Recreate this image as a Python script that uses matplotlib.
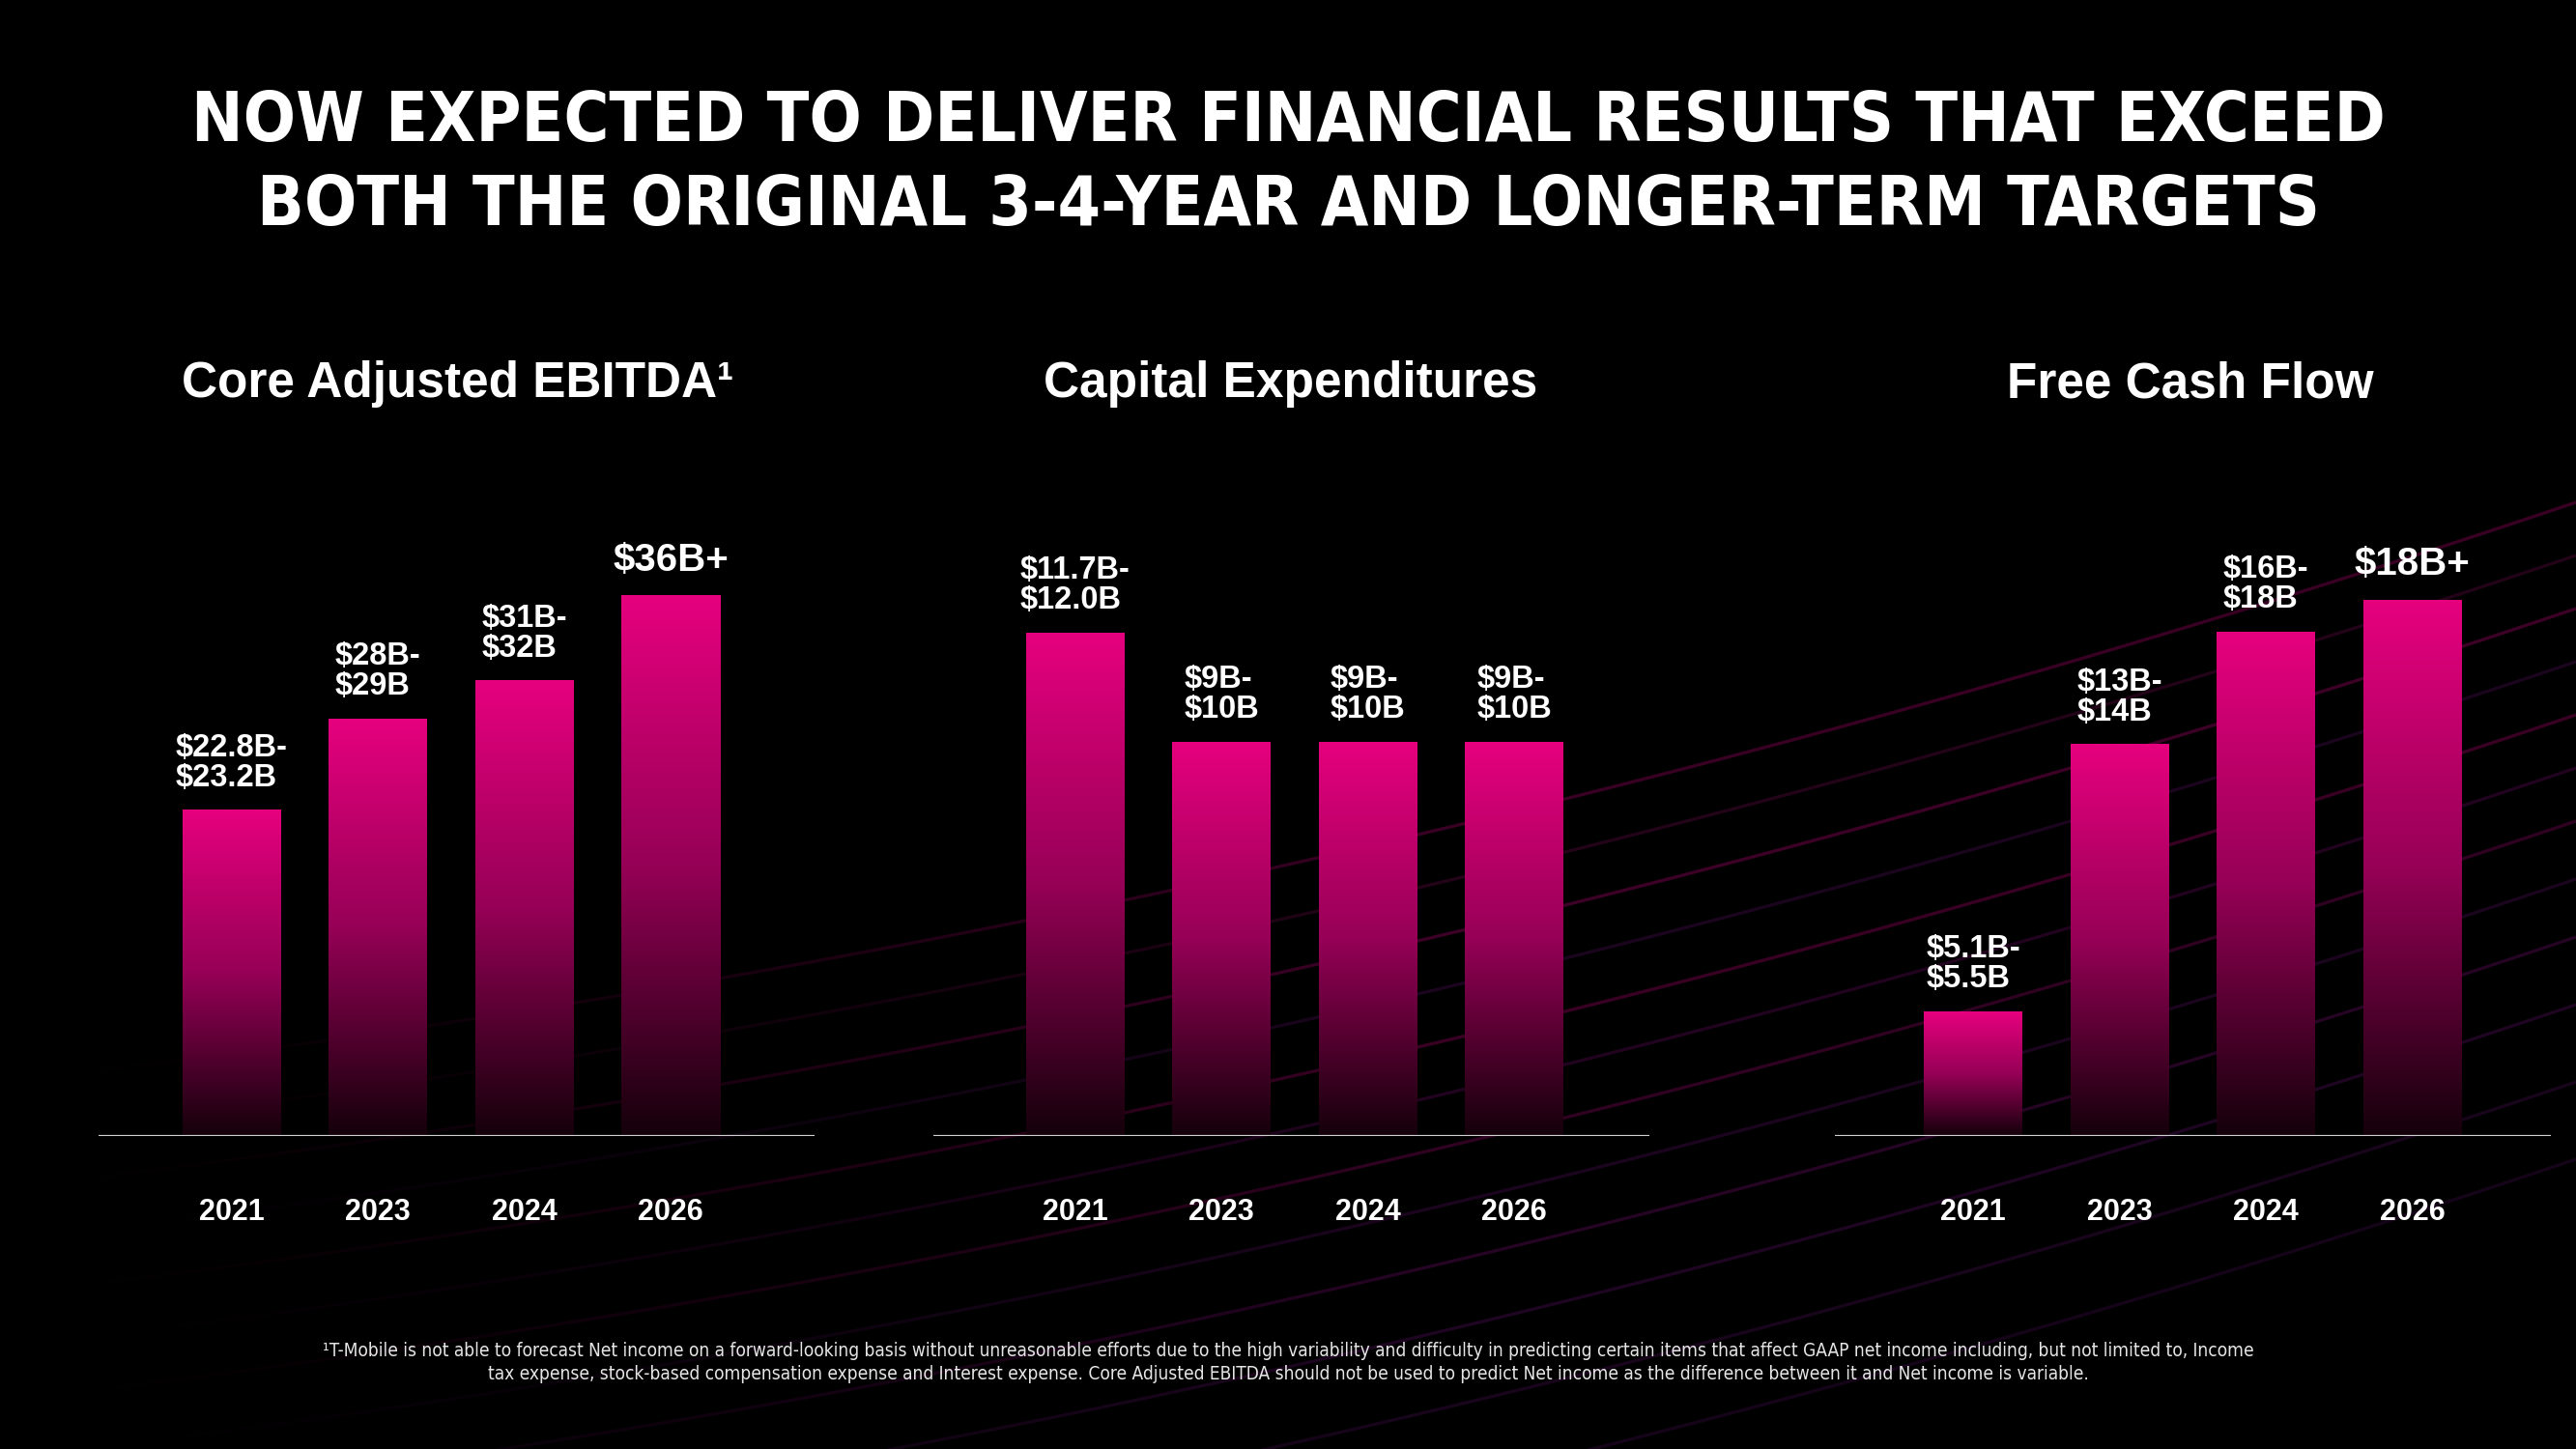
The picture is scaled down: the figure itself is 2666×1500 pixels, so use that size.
import numpy as np
import matplotlib
matplotlib.use('Agg')
import matplotlib.pyplot as plt
from matplotlib import font_manager
from matplotlib.font_manager import FontProperties
from matplotlib.colors import LinearSegmentedColormap, to_rgba
from matplotlib.collections import LineCollection

## values ($B, bar heights as drawn)
years = ['2021', '2023', '2024', '2026']
ebitda = [22.2, 28.4, 31.0, 36.8]
ebitda_labels = ['$22.8B-\n$23.2B', '$28B-\n$29B', '$31B-\n$32B', '$36B+']
capex = [12.0, 9.4, 9.4, 9.4]
capex_labels = ['$11.7B-\n$12.0B', '$9B-\n$10B', '$9B-\n$10B', '$9B-\n$10B']
fcf = [4.3, 13.5, 17.4, 18.5]
fcf_labels = ['$5.1B-\n$5.5B', '$13B-\n$14B', '$16B-\n$18B', '$18B+']
panel_titles = ['Core Adjusted EBITDA\u00b9', 'Capital Expenditures', 'Free Cash Flow']

title_lines = ['NOW EXPECTED TO DELIVER FINANCIAL RESULTS THAT EXCEED',
               'BOTH THE ORIGINAL 3-4-YEAR AND LONGER-TERM TARGETS']
footnote_lines = [
    '\u00b9T-Mobile is not able to forecast Net income on a forward-looking basis without unreasonable '
    'efforts due to the high variability and difficulty in predicting certain items that affect GAAP net '
    'income including, but not limited to, Income',
    'tax expense, stock-based compensation expense and Interest expense. Core Adjusted EBITDA should not be '
    'used to predict Net income as the difference between it and Net income is variable.']

W, H = 2666, 1500
MAGENTA = '#e6007e'

plt.rcParams['font.family'] = ['Liberation Sans', 'DejaVu Sans']


def weight_num(w):
    if isinstance(w, (int, float)):
        return w
    return {'bold': 700, 'heavy': 800, 'black': 900, 'extra bold': 800,
            'semibold': 600, 'demibold': 600}.get(str(w).lower(), 400)


## look for a narrow face for the title / footnote, else plain Liberation Sans
narrow_fonts = [f for f in font_manager.fontManager.ttflist
                if 'Narrow' in f.name or 'Condensed' in f.name
                or f.stretch in ('condensed', 'semi-condensed', 'extra-condensed')]
narrow_bold = [f for f in narrow_fonts if weight_num(f.weight) >= 600 and f.style == 'normal']
narrow_reg = [f for f in narrow_fonts if weight_num(f.weight) == 400 and f.style == 'normal']
title_fp = (FontProperties(fname=narrow_bold[0].fname) if narrow_bold
            else FontProperties(family='Liberation Sans', weight='bold'))
foot_fp = (FontProperties(fname=narrow_reg[0].fname) if narrow_reg
           else FontProperties(family='Liberation Sans'))

fig = plt.figure(figsize=(W / 100, H / 100), dpi=100, facecolor='black')

## background swooshes
bg = fig.add_axes([0, 0, 1, 1], zorder=0)
bg.set_xlim(0, W)
bg.set_ylim(H, 0)
bg.axis('off')
xs = np.linspace(0, W, 300)
t = xs / W
swooshes = [(1120, 0.30, '#c0007a'), (1175, 0.22, '#a0106f'),
            (1230, 0.32, '#c0007a'), (1285, 0.20, '#8a1a9a'),
            (1340, 0.30, '#c0007a'), (1395, 0.22, '#9a1090'),
            (1450, 0.28, '#b0087a'), (1510, 0.20, '#8a1a9a'),
            (1570, 0.25, '#9a1090'), (1640, 0.22, '#8a1a9a'),
            (1720, 0.20, '#7a1a8c'), (1800, 0.18, '#7a1a8c')]
for c, a, col in swooshes:
    ys = c - (300 * t + 300 * t ** 2)
    pts = np.column_stack([xs, ys]).reshape(-1, 1, 2)
    segs = np.concatenate([pts[:-1], pts[1:]], axis=1)
    rgba = np.array([to_rgba(col, a * min(1.0, (tt / 0.55) ** 1.3)) for tt in t[:-1]])
    bg.add_collection(LineCollection(segs, colors=rgba, linewidths=2.4))

cmap = LinearSegmentedColormap.from_list('bar', ['#14000a', '#960056', MAGENTA])
grad = np.linspace(0, 1, 256).reshape(-1, 1)

## panels: values, labels, axis left px, pad (bar units), px per $B
panels = [(ebitda, ebitda_labels, 102, 0.908, 15.2),
          (capex, capex_labels, 966, 0.969, 43.4),
          (fcf, fcf_labels, 1899, 0.944, 30.0)]
unit = 151.5
axw, axh, base_px = 741, 676, 1176

for vals, labs, left, pad, scale in panels:
    ax = fig.add_axes([left / W, 1 - base_px / H, axw / W, axh / H], zorder=2)
    ax.set_facecolor('none')
    x = np.arange(len(years))
    bars = ax.bar(x, vals, width=102 / unit, color='none', zorder=2)
    for rect, lab in zip(bars, labs):
        x0, w, h = rect.get_x(), rect.get_width(), rect.get_height()
        ax.imshow(grad, extent=[x0, x0 + w, 0, h], aspect='auto', cmap=cmap,
                  origin='lower', zorder=2)
        big = '\n' not in lab
        ax.annotate(lab, (x0 + w / 2, h), xytext=(0, 13), textcoords='offset points',
                    ha='center', va='bottom', multialignment='left',
                    fontsize=29 if big else 23.5, fontweight='bold', color='white',
                    linespacing=1.0, annotation_clip=False, parse_math=False)
    ax.axhline(0, color='#d0d0d0', lw=1.6, zorder=3)
    ax.set_xlim(-pad, -pad + axw / unit)
    ax.set_ylim(0, axh / scale)
    ax.set_xticks(x)
    ax.set_xticklabels(years, fontsize=22, fontweight='bold', color='white')
    ax.tick_params(axis='x', length=0, pad=46)
    ax.set_yticks([])
    for s in ax.spines.values():
        s.set_visible(False)

## panel titles
for cx, txt in zip([474, 1336, 2267], panel_titles):
    fig.text(cx / W, 1 - 411 / H, txt, ha='center', va='baseline', fontsize=37,
             fontweight='bold', color='white')

renderer = fig.canvas.get_renderer()

## main title, sized to the slide's width
t1 = fig.text(0.5, 1 - 146 / H, title_lines[0], ha='center', va='baseline',
              fontproperties=title_fp, fontsize=60, color='white')
fs = 60 * 2272 / t1.get_window_extent(renderer).width
t1.set_fontsize(fs)
fig.text(0.5, 1 - 233 / H, title_lines[1], ha='center', va='baseline',
         fontproperties=title_fp, fontsize=fs, color='white')

## footnote
f1 = fig.text(0.5, 1 - 1399 / H, footnote_lines[0], ha='center', va='center',
              fontproperties=foot_fp, fontsize=12, color='#e6e6e6')
ffs = 12 * 2000 / f1.get_window_extent(renderer).width
f1.set_fontsize(ffs)
fig.text(0.5, 1 - 1423 / H, footnote_lines[1], ha='center', va='center',
         fontproperties=foot_fp, fontsize=ffs, color='#e6e6e6')

fig.savefig('out.png', dpi=100, facecolor='black')
